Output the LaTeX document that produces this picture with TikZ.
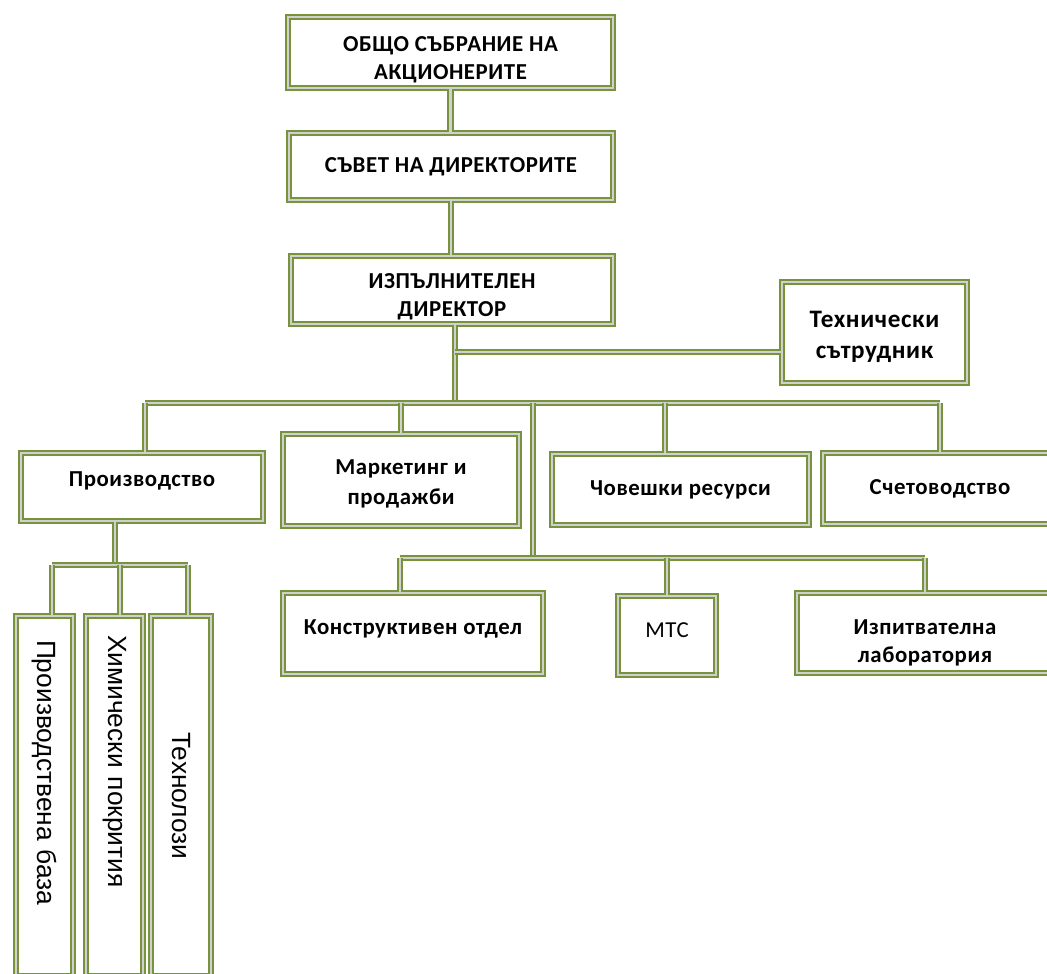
\documentclass[tikz,border=0pt]{standalone}
\usepackage{fontspec}
\setmainfont{Carlito}[LetterSpace=2.5]
\newfontfamily\arialfont{Liberation Sans}
\usetikzlibrary{positioning}
\definecolor{olivegreen}{HTML}{77933C}
\definecolor{midgray}{HTML}{D0D0D0}
\newcommand\topgap[1]{\rule{0pt}{#1}}
\newcommand\botgap[1]{\rule[-#1]{0pt}{#1}}
\tikzset{
  orgbox/.style={draw=olivegreen, double=midgray, double distance=0.05cm, line width=0.036cm,
    fill=white, align=center, inner sep=2pt, font=\fontsize{13}{16}\selectfont\bfseries},
  plainbox/.style={orgbox, font=\fontsize{13}{16}\selectfont},
  vertbox/.style={orgbox, rotate=-90, font=\arialfont\fontsize{15}{18}\selectfont},
  link/.style={draw=olivegreen, double=midgray, double distance=0.05cm, line width=0.036cm},
}

\begin{document}
\begin{tikzpicture}[x=0.02cm, y=-0.02cm]
  \useasboundingbox (0,0) rectangle (1047,973);

  % management
  \node[orgbox, minimum width=6.5cm, minimum height=1.42cm] (assembly) at (450.5,52.5) {\topgap{0.58cm}ОБЩО СЪБРАНИЕ НА\\АКЦИОНЕРИТЕ};
  \node[orgbox, minimum width=6.48cm, minimum height=1.34cm] (board) at (451,166.5) {СЪВЕТ НА ДИРЕКТОРИТЕ};
  \node[orgbox, minimum width=6.44cm, minimum height=1.32cm] (exec) at (452,290) {\topgap{0.58cm}ИЗПЪЛНИТЕЛЕН\\ДИРЕКТОР};
  \node[orgbox, minimum width=3.7cm, minimum height=2.02cm, font=\fontsize{14.3}{18}\selectfont\bfseries] (tech) at (874.5,332.5) {\topgap{0.5cm}Технически\\сътрудник};

  % departments
  \node[orgbox, minimum width=4.84cm, minimum height=1.36cm] (prod) at (142,487) {Производство\botgap{0.3cm}};
  \node[orgbox, minimum width=4.72cm, minimum height=1.84cm, font=\fontsize{13}{17}\selectfont\bfseries] (marketing) at (401,480) {\topgap{0.45cm}Маркетинг и\\продажби};
  \node[orgbox, minimum width=5.14cm, minimum height=1.42cm] (hr) at (680.5,489.5) {Човешки ресурси};
  \node[orgbox, minimum width=4.68cm, minimum height=1.42cm] (accounting) at (940,488.5) {Счетоводство};

  % units
  \node[orgbox, minimum width=5.2cm, minimum height=1.62cm] (design) at (413,633.5) {Конструктивен отдел\botgap{0.26cm}};
  \node[plainbox, minimum width=1.96cm, minimum height=1.58cm] (mts) at (667,635.5) {МТС\botgap{0.2cm}};
  \node[orgbox, minimum width=5.12cm, minimum height=1.6cm] (lab) at (925,633) {\topgap{0.7cm}Изпитвателна\\лаборатория};

  % production sections
  \node[vertbox, minimum height=1.14cm, inner xsep=0.48cm, text width=6.24cm, align=left] (base) at (44.5,796) {Производствена база};
  \node[vertbox, minimum height=1.14cm, inner xsep=0.38cm, text width=6.44cm, align=left] (coating) at (114.5,796) {Химически покрития};
  \node[vertbox, minimum height=1.2cm, minimum width=7.2cm] (techno) at (181,796) {Технолози};

  % connectors
  \coordinate (mainbus) at (455,403);
  \coordinate (techjoin) at (455,352);
  \coordinate (busW) at (145,403);
  \coordinate (busE) at (940,403);
  \coordinate (hrdrop) at (665,403);
  \coordinate (lowjoin) at (533,558);
  \coordinate (lowbusW) at (400,558);
  \coordinate (lowbusE) at (925,558);
  \coordinate (prodjoin) at (115,565);
  \coordinate (subbusW) at (52,565);
  \coordinate (subbusE) at (188,565);
  \coordinate (coatdrop) at (120,565);

  \draw[link] (assembly.south) -- (assembly.south |- board.north);
  \draw[link] (board.south) -- (board.south |- exec.north);
  \draw[link] (mainbus |- exec.south) -- (mainbus);
  \draw[link] (techjoin) -- (techjoin -| tech.west);
  \draw[link] (busW) -- (busE);
  \draw[link] (busW) -- (busW |- prod.north);
  \draw[link] (marketing.north |- busW) -- (marketing.north);
  \draw[link] (hrdrop) -- (hrdrop |- hr.north);
  \draw[link] (busE) -- (busE |- accounting.north);
  \draw[link] (lowjoin |- busW) -- (lowjoin);
  \draw[link] (lowbusW) -- (lowbusE);
  \draw[link] (lowbusW) -- (lowbusW |- design.north);
  \draw[link] (mts.north |- lowbusW) -- (mts.north);
  \draw[link] (lowbusE) -- (lowbusE |- lab.north);
  \draw[link] (prodjoin |- prod.south) -- (prodjoin);
  \draw[link] (subbusW) -- (subbusE);
  \draw[link] (subbusW) -- (subbusW |- base.west);
  \draw[link] (coatdrop) -- (coatdrop |- coating.west);
  \draw[link] (subbusE) -- (subbusE |- techno.west);
\end{tikzpicture}
\end{document}
